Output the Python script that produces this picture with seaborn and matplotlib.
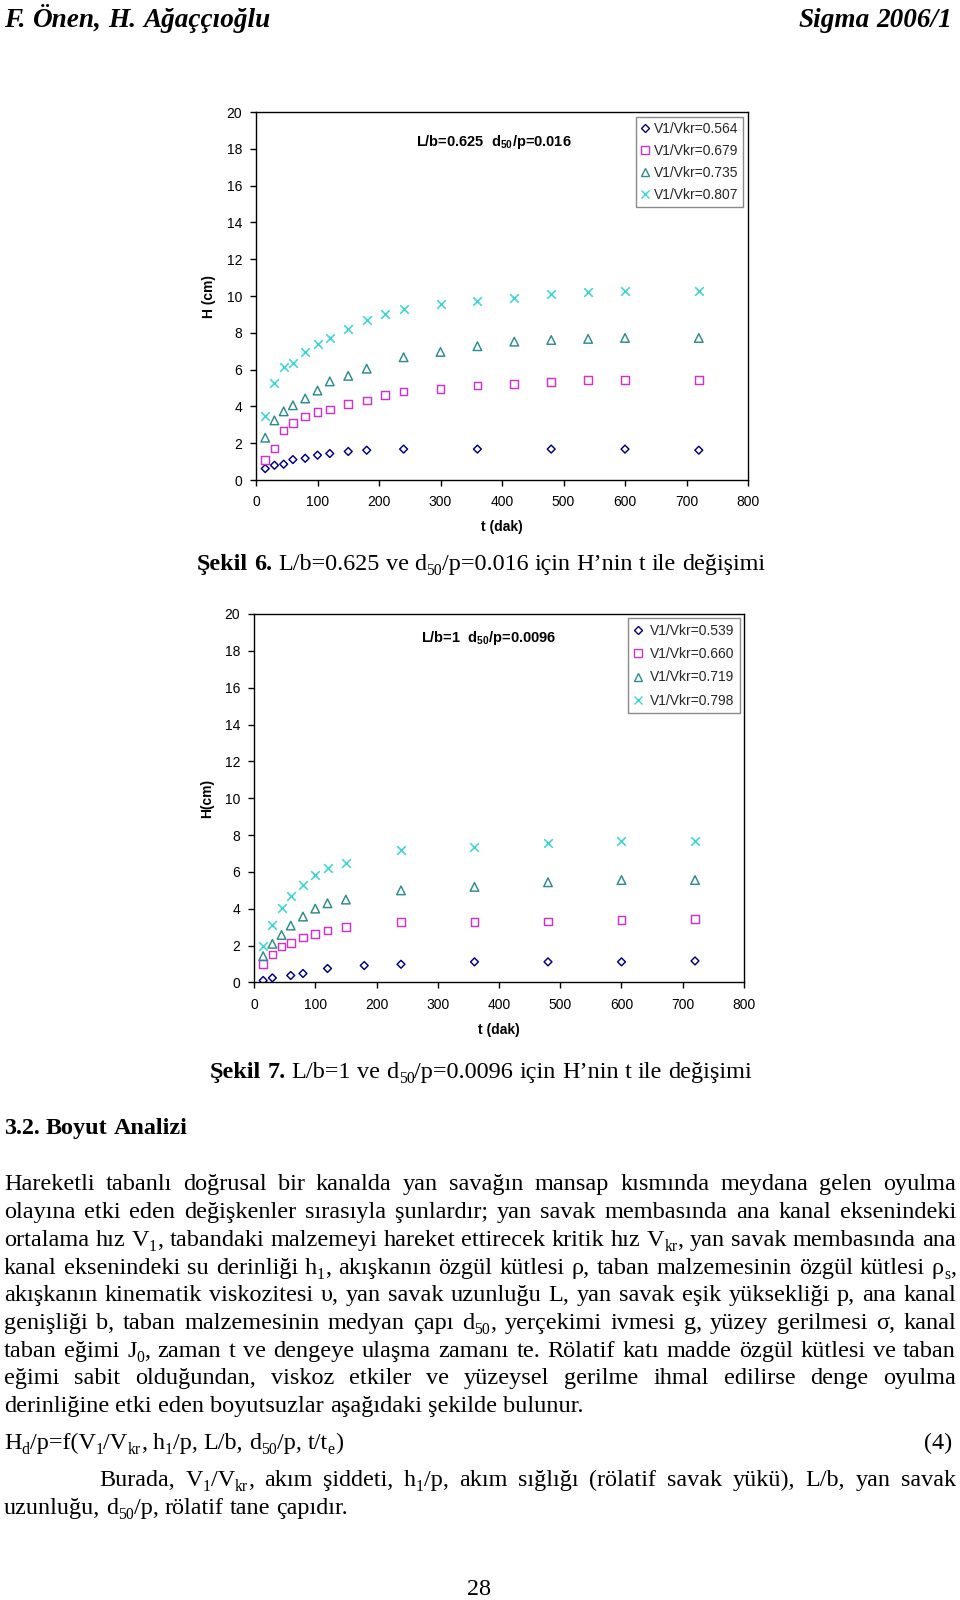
import re
import numpy as np
import pandas as pd
import matplotlib
matplotlib.use("Agg")
import matplotlib.pyplot as plt
import seaborn as sns
from matplotlib.lines import Line2D

# ------------------------------------------------------------------ data
x_ticks = [0, 100, 200, 300, 400, 500, 600, 700, 800]
y_ticks = [0, 2, 4, 6, 8, 10, 12, 14, 16, 18, 20]

# Şekil 6  (L/b=0.625, d50/p=0.016)
labels6 = ["V1/Vkr=0.564", "V1/Vkr=0.679", "V1/Vkr=0.735", "V1/Vkr=0.807"]
t6_a = [15, 30, 45, 60, 80, 100, 120, 150, 180, 240, 360, 480, 600, 720]
h6_a = [0.62, 0.80, 0.86, 1.11, 1.18, 1.35, 1.44, 1.55, 1.62, 1.68, 1.68, 1.68, 1.68, 1.62]
t6_b = [15, 30, 45, 60, 80, 100, 120, 150, 180, 210, 240, 300, 360, 420, 480, 540, 600, 720]
h6_b = [1.09, 1.71, 2.70, 3.10, 3.46, 3.70, 3.83, 4.13, 4.32, 4.63, 4.81, 4.95, 5.14, 5.21, 5.32, 5.45, 5.45, 5.45]
t6_c = [15, 30, 45, 60, 80, 100, 120, 150, 180, 240, 300, 360, 420, 480, 540, 600, 720]
h6_c = [2.30, 3.24, 3.73, 4.06, 4.43, 4.86, 5.36, 5.66, 6.05, 6.67, 6.96, 7.27, 7.52, 7.61, 7.67, 7.72, 7.72]
t6_d = [15, 30, 45, 60, 80, 100, 120, 150, 180, 210, 240, 300, 360, 420, 480, 540, 600, 720]
h6_d = [3.50, 5.28, 6.16, 6.36, 6.96, 7.41, 7.72, 8.23, 8.67, 9.03, 9.29, 9.54, 9.73, 9.91, 10.09, 10.22, 10.27, 10.27]

# Şekil 7  (L/b=1, d50/p=0.0096)
labels7 = ["V1/Vkr=0.539", "V1/Vkr=0.660", "V1/Vkr=0.719", "V1/Vkr=0.798"]
t7_a = [15, 30, 60, 80, 120, 180, 240, 360, 480, 600, 720]
h7_a = [0.11, 0.25, 0.38, 0.49, 0.76, 0.92, 0.99, 1.12, 1.12, 1.12, 1.17]
t7_b = [15, 30, 45, 60, 80, 100, 120, 150, 240, 360, 480, 600, 720]
h7_b = [1.01, 1.52, 1.95, 2.13, 2.44, 2.64, 2.82, 3.00, 3.27, 3.27, 3.32, 3.38, 3.45]
t7_c = [15, 30, 45, 60, 80, 100, 120, 150, 240, 360, 480, 600, 720]
h7_c = [1.43, 2.10, 2.58, 3.09, 3.58, 4.01, 4.30, 4.50, 5.00, 5.19, 5.44, 5.56, 5.56]
t7_d = [15, 30, 45, 60, 80, 100, 120, 150, 240, 360, 480, 600, 720]
h7_d = [1.99, 3.11, 4.03, 4.72, 5.28, 5.84, 6.20, 6.50, 7.17, 7.37, 7.55, 7.68, 7.68]

note6 = r"L/b=0.625  d$_{\mathbf{50}}$/p=0.016"
note7 = r"L/b=1  d$_{\mathbf{50}}$/p=0.0096"

header_left = "F. Önen, H. Ağaççıoğlu"
header_right = "Sigma 2006/1"
caption6_bold = "Şekil 6."
caption6_text = "L/b=0.625 ve d_{50}/p=0.016 için H’nin t ile değişimi"
caption7_bold = "Şekil 7."
caption7_text = "L/b=1 ve d_{50}/p=0.0096 için H’nin t ile değişimi"
section_title = "3.2. Boyut Analizi"
para_lines = [
    "Hareketli tabanlı doğrusal bir kanalda yan savağın mansap kısmında meydana gelen oyulma",
    "olayına etki eden değişkenler sırasıyla şunlardır; yan savak membasında ana kanal eksenindeki",
    "ortalama hız V_{1}, tabandaki malzemeyi hareket ettirecek kritik hız V_{kr}, yan savak membasında ana",
    "kanal eksenindeki su derinliği h_{1}, akışkanın özgül kütlesi ρ, taban malzemesinin özgül kütlesi ρ_{s},",
    "akışkanın kinematik viskozitesi υ, yan savak uzunluğu L, yan savak eşik yüksekliği p, ana kanal",
    "genişliği b, taban malzemesinin medyan çapı d_{50}, yerçekimi ivmesi g, yüzey gerilmesi σ, kanal",
    "taban eğimi J_{0}, zaman t ve dengeye ulaşma zamanı te. Rölatif katı madde özgül kütlesi ve taban",
    "eğimi sabit olduğundan, viskoz etkiler ve yüzeysel gerilme ihmal edilirse denge oyulma",
    "derinliğine etki eden boyutsuzlar aşağıdaki şekilde bulunur.",
]
equation_text = "H_{d}/p=f(V_{1}/V_{kr}, h_{1}/p, L/b, d_{50}/p, t/t_{e})"
equation_no = "(4)"
burada_lines = [
    "Burada, V_{1}/V_{kr}, akım şiddeti, h_{1}/p, akım sığlığı (rölatif savak yükü), L/b, yan savak",
    "uzunluğu, d_{50}/p, rölatif tane çapıdır.",
]
page_no = "28"

# ------------------------------------------------------------------ style
sns.set_theme(style="ticks")
plt.rcParams["font.family"] = ["Liberation Sans", "DejaVu Sans"]
plt.rcParams["mathtext.fontset"] = "custom"
plt.rcParams["mathtext.rm"] = "Liberation Sans"
plt.rcParams["mathtext.bf"] = "Liberation Sans:bold"
plt.rcParams["mathtext.it"] = "Liberation Sans:italic"

W, H = 960, 1600
fig = plt.figure(figsize=(W / 100, H / 100), dpi=100)
fig.patch.set_facecolor("white")

MARKERS = ["D", "s", "^", "x"]
COLORS = ["#000080", "#CC33CC", "#2E8B8B", "#3CD6D6"]
SIZES = [16, 30, 38, 38]


def px_rect(left, top, right, bottom):
    return [left / W, 1 - bottom / H, (right - left) / W, (bottom - top) / H]


def draw_chart(rect, ts, hs, labels, note, note_xy, ylabel, ylab_x, xlab_y,
               leg_anchor, leg_kw):
    ax = fig.add_axes(rect)
    for t, h, mk, col, s in zip(ts, hs, MARKERS, COLORS, SIZES):
        if mk == "x":
            sns.scatterplot(x=t, y=h, marker=mk, s=s, color=col,
                            linewidth=1.15, ax=ax)
        else:
            sns.scatterplot(x=t, y=h, marker=mk, s=s, facecolor="none",
                            edgecolor=col, linewidth=1.05, ax=ax)
    ax.set_xlim(0, 800)
    ax.set_ylim(0, 20)
    ax.set_xticks(x_ticks)
    ax.set_yticks(y_ticks)
    ax.grid(False)
    for sp in ax.spines.values():
        sp.set_visible(True)
        sp.set_color("black")
        sp.set_linewidth(1.0)
    ax.tick_params(axis="both", direction="out", length=4, width=1,
                   color="black", labelsize=10, labelcolor="black")
    ax.tick_params(axis="x", pad=7)
    ax.tick_params(axis="y", pad=6)
    ax.set_xlabel("t (dak)", fontsize=10, fontweight="bold", color="black")
    ax.set_ylabel(ylabel, fontsize=10, fontweight="bold", color="black")
    ax.xaxis.set_label_coords(0.5, xlab_y)
    ax.xaxis.label.set_va("center")
    ax.yaxis.set_label_coords(ylab_x, 0.5)
    ax.yaxis.label.set_va("center")
    ax.text(note_xy[0], note_xy[1], note, transform=ax.transAxes,
            ha="center", va="center", fontsize=10.5, fontweight="bold",
            color="black")
    handles = []
    for mk, col, s in zip(MARKERS, COLORS, SIZES):
        handles.append(Line2D([], [], marker=mk, linestyle="none",
                              markerfacecolor=(col if mk == "x" else "none"),
                              markeredgecolor=col, markersize=np.sqrt(s),
                              markeredgewidth=1.0))
    leg = ax.legend(handles, labels, loc="upper right",
                    bbox_to_anchor=leg_anchor, borderaxespad=0,
                    frameon=True, fancybox=False, edgecolor="#8a8a8a",
                    fontsize=10, framealpha=1, **leg_kw)
    leg.get_frame().set_linewidth(1.0)
    return ax


draw_chart(px_rect(256, 112, 748, 480),
           [t6_a, t6_b, t6_c, t6_d], [h6_a, h6_b, h6_c, h6_d], labels6,
           note6, (0.483, 0.918), "H (cm)", -0.0955, -0.129,
           (0.990, 0.986),
           dict(borderpad=0.35, handlelength=0.6, handletextpad=0.35,
                labelspacing=0.58))

draw_chart(px_rect(254, 614, 744, 982.5),
           [t7_a, t7_b, t7_c, t7_d], [h7_a, h7_b, h7_c, h7_d], labels7,
           note7, (0.478, 0.935), "H(cm)", -0.096, -0.129,
           (0.992, 0.989),
           dict(borderpad=0.4, handlelength=0.6, handletextpad=0.55,
                labelspacing=0.68))

# ------------------------------------------------------------------ page text
ov = fig.add_axes([0, 0, 1, 1])
ov.set_xlim(0, W)
ov.set_ylim(H, 0)
ov.axis("off")
ov.set_zorder(10)
renderer = fig.canvas.get_renderer()
SERIF = ["Liberation Serif", "DejaVu Serif"]
SUB = 0.65
_cache = {}


def measure(s, size, weight="normal", style="normal"):
    key = (s, round(size, 3), weight, style)
    if key not in _cache:
        t = ov.text(0, 0, s, fontsize=size, fontweight=weight,
                    fontstyle=style, family=SERIF)
        _cache[key] = t.get_window_extent(renderer).width
        t.remove()
    return _cache[key]


def parse_word(word):
    segs, pos = [], 0
    for m in re.finditer(r"_\{([^}]*)\}", word):
        if m.start() > pos:
            segs.append((word[pos:m.start()], False))
        segs.append((m.group(1), True))
        pos = m.end()
    if pos < len(word):
        segs.append((word[pos:], False))
    return segs


def words_of(text, weight="normal", style="normal"):
    return [(parse_word(w), weight, style) for w in text.split(" ") if w]


def space_w(size, weight="normal", style="normal"):
    return measure("n n", size, weight, style) - measure("nn", size, weight, style)


def word_w(word, size):
    segs, weight, style = word
    return sum(measure(s, size * (SUB if sub else 1), weight, style)
               for s, sub in segs)


def natural_w(words, size):
    return (sum(word_w(w, size) for w in words)
            + (len(words) - 1) * space_w(size))


def fit_size(words, target, ref=12.0):
    size = ref
    for _ in range(3):
        size = size * target / natural_w(words, size)
    return size


def draw_line(words, size, x0, yc, x1=None, align="left", base_frac=0.32):
    em = size * 100 / 72
    base = yc + base_frac * em
    widths = [word_w(w, size) for w in words]
    if align == "justify" and len(words) > 1:
        gap = (x1 - x0 - sum(widths)) / (len(words) - 1)
    else:
        gap = space_w(size)
    x = x0
    if align == "right":
        x = x1 - (sum(widths) + gap * (len(words) - 1))
    elif align == "center":
        x = x0 - (sum(widths) + gap * (len(words) - 1)) / 2
    for (segs, weight, style), w in zip(words, widths):
        xx = x
        for s, sub in segs:
            sz = size * SUB if sub else size
            yy = base + (0.2 * em if sub else 0)
            ov.text(xx, yy, s, fontsize=sz, fontweight=weight,
                    fontstyle=style, family=SERIF, ha="left",
                    va="baseline", color="black")
            xx += measure(s, sz, weight, style)
        x += w + gap


# header
hl = words_of(header_left, "bold", "italic")
draw_line(hl, fit_size(hl, 265), 4, 18)
hr = words_of(header_right, "bold", "italic")
draw_line(hr, fit_size(hr, 154), 0, 18, x1=952, align="right")

# captions
c6 = words_of(caption6_bold, "bold") + words_of(caption6_text)
draw_line(c6, fit_size(c6, 567), 197, 562)
c7 = words_of(caption7_bold, "bold") + words_of(caption7_text)
draw_line(c7, fit_size(c7, 540), 210, 1070)

# section title
st = words_of(section_title, "bold")
draw_line(st, fit_size(st, 183), 4, 1126)

# paragraph
para_y = [1182.5, 1210, 1238.5, 1266, 1293.5, 1321, 1349, 1376, 1404]
pw = [words_of(l) for l in para_lines]
psize = fit_size(pw[-1], 576)
for words in pw[:-1]:
    while (sum(word_w(w, psize) for w in words)
           + (len(words) - 1) * 0.5 * space_w(psize)) > 952:
        psize *= 0.98
for i, (words, y) in enumerate(zip(pw, para_y)):
    if i < len(pw) - 1:
        draw_line(words, psize, 4, y, x1=956, align="justify")
    else:
        draw_line(words, psize, 4, y)

# equation and closing lines (narrower face in the original)
bw = [words_of(l) for l in burada_lines]
csize = fit_size(bw[1], 344)
eq = words_of(equation_text)
draw_line(eq, csize, 4, 1441.5)
draw_line(words_of(equation_no), csize, 0, 1441.5, x1=952, align="right")
draw_line(bw[0], csize, 99, 1478, x1=956, align="justify")
draw_line(bw[1], csize, 4, 1506)

# page number
pn = words_of(page_no)
draw_line(pn, fit_size(pn, 24), 479.5, 1587.5, align="center")

fig.savefig("out.png", dpi=100, facecolor="white")
